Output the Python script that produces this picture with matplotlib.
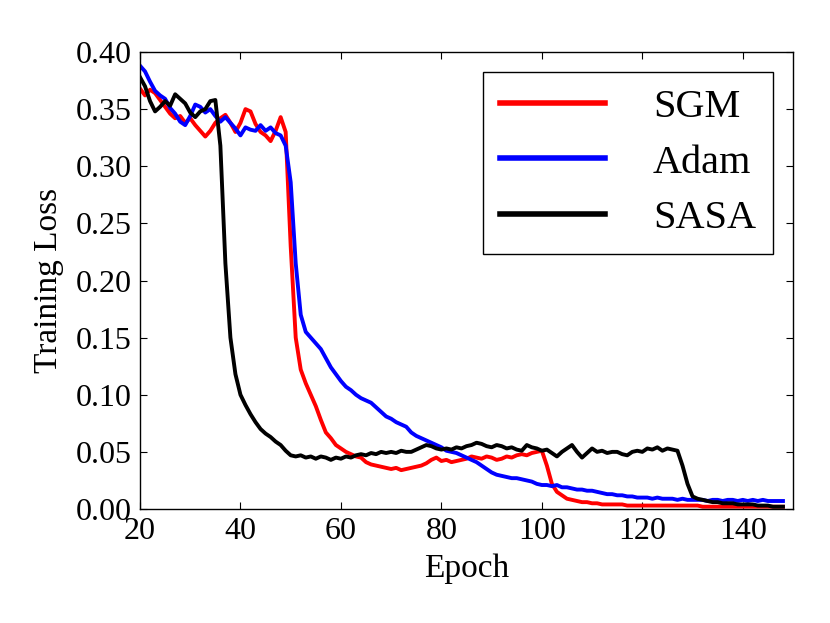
import numpy as np
import matplotlib
matplotlib.use("Agg")
import matplotlib.pyplot as plt

epochs = np.arange(20, 149)

sgm = [
    0.368, 0.362, 0.367, 0.364, 0.358, 0.352, 0.346, 0.342, 0.344, 0.338,  # 20-29
    0.342, 0.336, 0.331, 0.326, 0.331, 0.338, 0.342, 0.345, 0.338, 0.330,  # 30-39
    0.338, 0.350, 0.348, 0.337, 0.330, 0.327, 0.322, 0.331, 0.343, 0.330,  # 40-49
    0.230, 0.150, 0.122, 0.110, 0.100, 0.090, 0.078, 0.067, 0.062, 0.056,  # 50-59
    0.053, 0.050, 0.048, 0.046, 0.045, 0.041, 0.039, 0.038, 0.037, 0.036,  # 60-69
    0.035, 0.036, 0.034, 0.035, 0.036, 0.037, 0.038, 0.040, 0.043, 0.045,  # 70-79
    0.042, 0.043, 0.041, 0.042, 0.043, 0.044, 0.046, 0.045, 0.044, 0.046,  # 80-89
    0.045, 0.043, 0.044, 0.046, 0.045, 0.047, 0.048, 0.047, 0.049, 0.050,  # 90-99
    0.051, 0.038, 0.022, 0.015, 0.012, 0.009, 0.008, 0.007, 0.006, 0.006,  # 100-109
    0.005, 0.005, 0.004, 0.004, 0.004, 0.004, 0.004, 0.003, 0.003, 0.003,  # 110-119
    0.003, 0.003, 0.003, 0.003, 0.003, 0.003, 0.003, 0.003, 0.003, 0.003,  # 120-129
    0.003, 0.003, 0.002, 0.002, 0.002, 0.002, 0.002, 0.002, 0.002, 0.002,  # 130-139
    0.002, 0.002, 0.002, 0.002, 0.002, 0.002, 0.002, 0.002, 0.002,         # 140-148
]

adam = [
    0.388, 0.383, 0.374, 0.366, 0.362, 0.359, 0.351, 0.346, 0.339, 0.336,  # 20-29
    0.344, 0.354, 0.352, 0.347, 0.350, 0.344, 0.339, 0.343, 0.338, 0.333,  # 30-39
    0.327, 0.334, 0.332, 0.331, 0.336, 0.331, 0.334, 0.329, 0.327, 0.318,  # 40-49
    0.286, 0.215, 0.170, 0.155, 0.150, 0.145, 0.140, 0.132, 0.124, 0.118,  # 50-59
    0.112, 0.107, 0.104, 0.100, 0.097, 0.095, 0.093, 0.089, 0.085, 0.081,  # 60-69
    0.079, 0.076, 0.074, 0.072, 0.067, 0.064, 0.062, 0.060, 0.058, 0.056,  # 70-79
    0.054, 0.051, 0.050, 0.049, 0.047, 0.045, 0.043, 0.041, 0.038, 0.035,  # 80-89
    0.032, 0.030, 0.029, 0.028, 0.027, 0.027, 0.026, 0.025, 0.024, 0.022,  # 90-99
    0.021, 0.021, 0.020, 0.021, 0.019, 0.019, 0.018, 0.017, 0.017, 0.016,  # 100-109
    0.016, 0.015, 0.014, 0.013, 0.013, 0.012, 0.012, 0.011, 0.011, 0.010,  # 110-119
    0.010, 0.010, 0.009, 0.010, 0.009, 0.009, 0.009, 0.008, 0.009, 0.008,  # 120-129
    0.008, 0.008, 0.008, 0.007, 0.008, 0.008, 0.007, 0.008, 0.008, 0.007,  # 130-139
    0.008, 0.007, 0.008, 0.007, 0.008, 0.007, 0.007, 0.007, 0.007,         # 140-148
]

sasa = [
    0.378, 0.370, 0.357, 0.348, 0.352, 0.357, 0.353, 0.363, 0.359, 0.355,  # 20-29
    0.347, 0.343, 0.348, 0.350, 0.357, 0.358, 0.318, 0.215, 0.150, 0.118,  # 30-39
    0.100, 0.091, 0.083, 0.076, 0.070, 0.066, 0.063, 0.059, 0.056, 0.051,  # 40-49
    0.047, 0.046, 0.047, 0.045, 0.046, 0.044, 0.046, 0.045, 0.043, 0.045,  # 50-59
    0.044, 0.046, 0.045, 0.047, 0.048, 0.047, 0.049, 0.048, 0.050, 0.049,  # 60-69
    0.050, 0.049, 0.051, 0.050, 0.050, 0.052, 0.054, 0.056, 0.055, 0.053,  # 70-79
    0.052, 0.053, 0.052, 0.054, 0.053, 0.055, 0.056, 0.058, 0.057, 0.055,  # 80-89
    0.054, 0.056, 0.055, 0.053, 0.054, 0.052, 0.051, 0.056, 0.054, 0.053,  # 90-99
    0.051, 0.052, 0.049, 0.046, 0.050, 0.053, 0.056, 0.050, 0.045, 0.049,  # 100-109
    0.053, 0.050, 0.051, 0.049, 0.050, 0.050, 0.048, 0.047, 0.050, 0.051,  # 110-119
    0.050, 0.053, 0.052, 0.054, 0.051, 0.053, 0.052, 0.051, 0.038, 0.022,  # 120-129
    0.011, 0.009, 0.008, 0.007, 0.006, 0.006, 0.005, 0.005, 0.005, 0.004,  # 130-139
    0.004, 0.004, 0.004, 0.003, 0.003, 0.003, 0.002, 0.002, 0.002,         # 140-148
]

series_names = ["SGM", "Adam", "SASA"]
series_colors = ["red", "blue", "black"]
x_ticks = [20, 40, 60, 80, 100, 120, 140]
y_ticks = [0.00, 0.05, 0.10, 0.15, 0.20, 0.25, 0.30, 0.35, 0.40]

plt.rcParams['font.family'] = ['Liberation Serif', 'DejaVu Serif']
plt.rcParams['mathtext.fontset'] = 'stix'

fig = plt.figure(figsize=(8.3, 6.23), dpi=100)
ax = fig.add_axes([140/830, 1 - 509/623, (793-140)/830, (509-52)/623])

for vals, name, col in zip([sgm, adam, sasa], series_names, series_colors):
    ax.plot(epochs, vals, color=col, lw=2.8, label=name)

ax.set_xlim(20, 150)
ax.set_ylim(0, 0.40)
ax.set_xticks(x_ticks)
ax.set_yticks(y_ticks)
ax.set_yticklabels([f"{v:.2f}" for v in y_ticks])
ax.tick_params(direction='in', top=True, right=True, length=5, width=0.8,
               labelsize=23, pad=6)
for s in ax.spines.values():
    s.set_linewidth(1.0)

ax.set_xlabel("Epoch", fontsize=24, labelpad=5)
ax.set_ylabel("Training Loss", fontsize=24, labelpad=8.5)

leg = ax.legend(loc='upper right', fontsize=29, frameon=True, fancybox=False,
                framealpha=1, edgecolor='black', borderaxespad=0.5,
                handlelength=2.6, handletextpad=1.2, borderpad=0.42,
                labelspacing=0.45)
leg.get_frame().set_linewidth(1.0)
for ln in leg.get_lines():
    ln.set_linewidth(4)

fig.savefig("out.png", dpi=100)
